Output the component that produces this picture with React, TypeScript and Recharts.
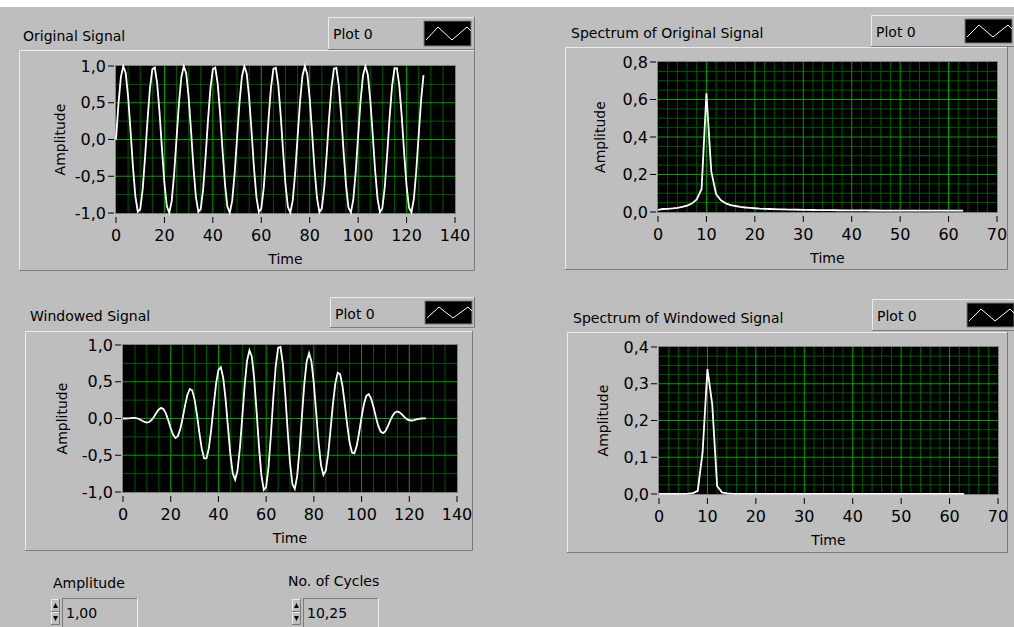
import { LineChart, Line, XAxis, YAxis, CartesianGrid } from "recharts";

// LabVIEW front panel: 10.25 cycles sine, Hanning window, RMS spectra

const originalSignal = [
  0, 0.482, 0.845, 0.998, 0.904, 0.586, 0.122, -0.371, -0.773, -0.983,
  -0.95, -0.681, -0.243, 0.255, 0.69, 0.953, 0.981, 0.765, 0.36, -0.135,
  -0.596, -0.909, -0.997, -0.838, -0.471, 0.012, 0.493, 0.851, 0.999, 0.899,
  0.576, 0.11, -0.383, -0.781, -0.985, -0.946, -0.672, -0.231, 0.267, 0.698,
  0.957, 0.978, 0.757, 0.348, -0.147, -0.606, -0.914, -0.996, -0.831, -0.461,
  0.025, 0.503, 0.858, 0.999, 0.893, 0.566, 0.098, -0.394, -0.788, -0.987,
  -0.942, -0.662, -0.219, 0.279, 0.707, 0.96, 0.976, 0.749, 0.337, -0.159,
  -0.615, -0.919, -0.995, -0.825, -0.45, 0.037, 0.514, 0.864, 1.0, 0.888,
  0.556, 0.086, -0.405, -0.796, -0.989, -0.937, -0.653, -0.207, 0.29, 0.716,
  0.964, 0.973, 0.741, 0.325, -0.171, -0.625, -0.924, -0.994, -0.818, -0.439,
  0.049, 0.524, 0.87, 1.0, 0.882, 0.545, 0.074, -0.416, -0.803, -0.991,
  -0.933, -0.644, -0.195, 0.302, 0.724, 0.967, 0.97, 0.733, 0.314, -0.183,
  -0.634, -0.929, -0.992, -0.81, -0.428, 0.061, 0.535, 0.876,
];

const windowedSignal = [
  0, 0.0, 0.002, 0.005, 0.009, 0.009, 0.003, -0.011, -0.03, -0.047,
  -0.056, -0.048, -0.02, 0.025, 0.078, 0.123, 0.144, 0.126, 0.066, -0.027,
  -0.132, -0.221, -0.264, -0.24, -0.145, 0.004, 0.175, 0.322, 0.402, 0.384,
  0.26, 0.052, -0.192, -0.41, -0.541, -0.542, -0.402, -0.144, 0.172, 0.467,
  0.662, 0.698, 0.557, 0.263, -0.114, -0.484, -0.747, -0.833, -0.709, -0.401,
  0.022, 0.454, 0.786, 0.928, 0.84, 0.539, 0.094, -0.383, -0.771, -0.972,
  -0.933, -0.658, -0.219, 0.279, 0.707, 0.959, 0.974, 0.745, 0.334, -0.157,
  -0.602, -0.892, -0.957, -0.785, -0.424, 0.034, 0.471, 0.779, 0.887, 0.773,
  0.475, 0.072, -0.331, -0.635, -0.769, -0.709, -0.48, -0.148, 0.2, 0.479,
  0.622, 0.605, 0.443, 0.186, -0.094, -0.328, -0.462, -0.473, -0.369, -0.187,
  0.02, 0.198, 0.309, 0.332, 0.272, 0.156, 0.02, -0.101, -0.178, -0.2,
  -0.171, -0.106, -0.029, 0.039, 0.082, 0.095, 0.082, 0.052, 0.019, -0.009,
  -0.024, -0.027, -0.021, -0.012, -0.004, 0.0, 0.001, 0.001,
];

const originalSpectrum = [
  0.011, 0.016, 0.017, 0.019, 0.022, 0.027, 0.034, 0.045, 0.067, 0.123,
  0.633, 0.216, 0.095, 0.062, 0.046, 0.037, 0.032, 0.027, 0.024, 0.022,
  0.02, 0.018, 0.017, 0.016, 0.015, 0.014, 0.0135, 0.0129, 0.0123, 0.0119,
  0.0114, 0.011, 0.0106, 0.0103, 0.01, 0.0097, 0.0095, 0.0093, 0.009, 0.0088,
  0.0087, 0.0085, 0.0083, 0.0082, 0.008, 0.0079, 0.0078, 0.0077, 0.0076, 0.0075,
  0.0075, 0.0074, 0.0073, 0.0073, 0.0072, 0.0072, 0.0071, 0.0071, 0.007, 0.007,
  0.007, 0.007, 0.007, 0.007,
];

const windowedSpectrum = [
  0.0003, 0.0003, 0.0003, 0.0003, 0.0004, 0.0006, 0.0011, 0.0026, 0.0087, 0.113,
  0.34, 0.243, 0.022, 0.0044, 0.0016, 0.0008, 0.0005, 0.0004, 0.0003, 0.0003,
  0.0003, 0.0003, 0.0003, 0.0003, 0.0003, 0.0003, 0.0003, 0.0003, 0.0003, 0.0003,
  0.0003, 0.0003, 0.0003, 0.0003, 0.0003, 0.0003, 0.0003, 0.0003, 0.0003, 0.0003,
  0.0003, 0.0003, 0.0003, 0.0003, 0.0003, 0.0003, 0.0003, 0.0003, 0.0003, 0.0003,
  0.0003, 0.0003, 0.0003, 0.0003, 0.0003, 0.0003, 0.0003, 0.0003, 0.0003, 0.0003,
  0.0003, 0.0003, 0.0003, 0.0003,
];

const timeTicks = [0, 20, 40, 60, 80, 100, 120, 140];
const timeMajor = [20, 40, 60, 80, 100, 120];
const timeMinor = [5, 10, 15, 25, 30, 35, 45, 50, 55, 65, 70, 75, 85, 90, 95, 105, 110, 115, 125, 130, 135];
const freqTicks = [0, 10, 20, 30, 40, 50, 60, 70];
const freqMajor = [10, 20, 30, 40, 50, 60];
const freqMinor = [2, 4, 6, 8, 12, 14, 16, 18, 22, 24, 26, 28, 32, 34, 36, 38, 42, 44, 46, 48, 52, 54, 56, 58, 62, 64, 66, 68];

const signalTicks = [-1, -0.5, 0, 0.5, 1];
const signalMajor = [-0.5, 0, 0.5];
const signalMinor = [-0.75, -0.25, 0.25, 0.75];
const origSpecTicks = [0, 0.2, 0.4, 0.6, 0.8];
const origSpecMajor = [0.2, 0.4, 0.6];
const origSpecMinor = [0.05, 0.1, 0.15, 0.25, 0.3, 0.35, 0.45, 0.5, 0.55, 0.65, 0.7, 0.75];
const winSpecTicks = [0, 0.1, 0.2, 0.3, 0.4];
const winSpecMajor = [0.1, 0.2, 0.3];
const winSpecMinor = [0.025, 0.05, 0.075, 0.125, 0.15, 0.175, 0.225, 0.25, 0.275, 0.325, 0.35, 0.375];

const W = 1014;
const H = 627;
const BG = "#bebebe";
const FONT = "DejaVu Sans";
const Y_AXIS_W = 60;
const X_AXIS_H = 52;

const fmtY = (v: number) => v.toFixed(1).replace(".", ",");

// eslint-disable-next-line @typescript-eslint/no-explicit-any
const XTick = (props: any) => {
  const { x, y, payload } = props;
  return (
    <g>
      <line x1={x} x2={x} y1={y - 10} y2={y - 4} stroke="#000" />
      <text x={x} y={y + 14} textAnchor="middle" fontFamily={FONT} fontSize={16} fill="#000">
        {payload.value}
      </text>
    </g>
  );
};

// eslint-disable-next-line @typescript-eslint/no-explicit-any
const YTick = (props: any) => {
  const { x, y, payload } = props;
  return (
    <g>
      <line x1={x + 2} x2={x + 8} y1={y} y2={y} stroke="#000" />
      <text x={x} y={y + 5.5} textAnchor="end" fontFamily={FONT} fontSize={16} fill="#000">
        {fmtY(payload.value)}
      </text>
    </g>
  );
};

type Box = { left: number; top: number; right: number; bottom: number };

type GraphProps = {
  values: number[];
  xMax: number;
  xTicks: number[];
  xMajor: number[];
  xMinor: number[];
  yTicks: number[];
  yMajor: number[];
  yMinor: number[];
  plot: Box;
  labelX: number;
};

function Graph({ values, xMax, xTicks, xMajor, xMinor, yTicks, yMajor, yMinor, plot, labelX }: GraphProps) {
  const data = values.map((v, i) => ({ x: i, y: v }));
  return (
    <div style={{ position: "absolute", left: 0, top: 0 }}>
      <LineChart
        width={W}
        height={H}
        data={data}
        margin={{
          top: plot.top,
          left: plot.left - Y_AXIS_W,
          right: W - plot.right,
          bottom: H - plot.bottom - X_AXIS_H,
        }}
      >
        <CartesianGrid fill="#000" stroke="#005800" verticalValues={xMinor} horizontalValues={yMinor} />
        <CartesianGrid stroke="#00a000" verticalValues={xMajor} horizontalValues={yMajor} />
        <XAxis
          type="number"
          dataKey="x"
          domain={[0, xMax]}
          ticks={xTicks}
          interval={0}
          height={X_AXIS_H}
          axisLine={false}
          tickLine={false}
          tickSize={10}
          tickMargin={4}
          tick={(p) => <XTick {...p} />}
          label={{ value: "Time", position: "insideBottom", offset: 1, fill: "#000", fontSize: 14, fontFamily: FONT }}
        />
        <YAxis
          type="number"
          domain={[yTicks[0], yTicks[yTicks.length - 1]]}
          ticks={yTicks}
          interval={0}
          width={Y_AXIS_W}
          axisLine={false}
          tickLine={false}
          tickSize={8}
          tickMargin={2}
          tick={(p) => <YTick {...p} />}
          label={{
            value: "Amplitude",
            angle: -90,
            position: "insideLeft",
            offset: labelX - (plot.left - Y_AXIS_W),
            fill: "#000",
            fontSize: 14,
            fontFamily: FONT,
            style: { textAnchor: "middle" },
          }}
        />
        <Line type="linear" dataKey="y" stroke="#ffffff" strokeWidth={1.8} dot={false} isAnimationActive={false} />
      </LineChart>
    </div>
  );
}

function Bevel({ x, y, w, h, raised = true }: { x: number; y: number; w: number; h: number; raised?: boolean }) {
  const light = "#ececec";
  const dark = "#7a7a7a";
  return (
    <g>
      <rect x={x} y={y} width={w} height={h} fill={BG} />
      <path d={`M${x + 0.5},${y + h} V${y + 0.5} H${x + w}`} stroke={raised ? light : dark} fill="none" />
      <path d={`M${x},${y + h - 0.5} H${x + w - 0.5} V${y}`} stroke={raised ? dark : light} fill="none" />
    </g>
  );
}

function PlotLegend({ x, y, w, h, sx }: { x: number; y: number; w: number; h: number; sx: number }) {
  const top = y + 4;
  const bottom = y + h - 4;
  return (
    <g>
      <Bevel x={x} y={y} w={w} h={h} />
      <text x={x + 5} y={y + 22} fontFamily={FONT} fontSize={14} fill="#000">
        Plot 0
      </text>
      <rect x={sx} y={top} width={47} height={bottom - top} fill="#000" stroke="#7a7a7a" />
      <polyline
        points={`${sx + 2},${bottom - 6} ${sx + 14},${top + 6} ${sx + 28},${bottom - 6} ${sx + 43},${top + 6} ${sx + 47},${top + 10}`}
        stroke="#fff"
        fill="none"
      />
    </g>
  );
}

function Numeric({ x, y, label, lx, ly, value }: { x: number; y: number; label: string; lx: number; ly: number; value: string }) {
  return (
    <g>
      <text x={lx} y={ly} fontFamily={FONT} fontSize={14} fill="#000">
        {label}
      </text>
      <Bevel x={x} y={y + 1} w={9} h={13} />
      <Bevel x={x} y={y + 14} w={9} h={13} />
      <path d={`M${x + 2},${y + 10} L${x + 4.5},${y + 5} L${x + 7},${y + 10} Z`} fill="#000" />
      <path d={`M${x + 2},${y + 18} L${x + 4.5},${y + 23} L${x + 7},${y + 18} Z`} fill="#000" />
      <Bevel x={x + 11} y={y} w={76} h={30} raised={false} />
      <text x={x + 15} y={y + 20} fontFamily={FONT} fontSize={14} fill="#000">
        {value}
      </text>
    </g>
  );
}

export default function App() {
  return (
    <div style={{ position: "absolute", left: 0, top: 0, width: W, height: H, overflow: "hidden", background: "#fff" }}>
      <svg width={W} height={H} style={{ position: "absolute", left: 0, top: 0 }}>
        <rect x={0} y={7} width={W} height={H - 7} fill={BG} />

        <Bevel x={19} y={50} w={456} h={221} />
        <Bevel x={565} y={47} w={443} h={223} />
        <Bevel x={25} y={331} w={448} h={220} />
        <Bevel x={567} y={332} w={441} h={221} />

        <rect x={115.5} y={65.5} width={340} height={148} fill="none" stroke="#808080" />
        <rect x={657.5} y={61.5} width={340} height={151} fill="none" stroke="#808080" />
        <rect x={122.5} y={344.5} width={335} height={148} fill="none" stroke="#808080" />
        <rect x={658.5} y={346.5} width={340} height={148} fill="none" stroke="#808080" />

        <text x={23} y={41} fontFamily={FONT} fontSize={14} fill="#000">Original Signal</text>
        <text x={571} y={38} fontFamily={FONT} fontSize={14} fill="#000">Spectrum of Original Signal</text>
        <text x={30} y={321} fontFamily={FONT} fontSize={14} fill="#000">Windowed Signal</text>
        <text x={573} y={323} fontFamily={FONT} fontSize={14} fill="#000">Spectrum of Windowed Signal</text>

        <PlotLegend x={328} y={17} w={147} h={33} sx={424} />
        <PlotLegend x={871} y={15} w={160} h={32} sx={965} />
        <PlotLegend x={330} y={297} w={145} h={31} sx={425} />
        <PlotLegend x={872} y={299} w={160} h={32} sx={967} />

        <Numeric x={51} y={598} label="Amplitude" lx={53} ly={588} value="1,00" />
        <Numeric x={292} y={598} label="No. of Cycles" lx={288} ly={586} value="10,25" />
      </svg>

      <Graph
        values={originalSignal}
        xMax={140}
        xTicks={timeTicks}
        xMajor={timeMajor}
        xMinor={timeMinor}
        yTicks={signalTicks}
        yMajor={signalMajor}
        yMinor={signalMinor}
        plot={{ left: 116, top: 66, right: 455, bottom: 213 }}
        labelX={60}
      />
      <Graph
        values={originalSpectrum}
        xMax={70}
        xTicks={freqTicks}
        xMajor={freqMajor}
        xMinor={freqMinor}
        yTicks={origSpecTicks}
        yMajor={origSpecMajor}
        yMinor={origSpecMinor}
        plot={{ left: 658, top: 62, right: 997, bottom: 212 }}
        labelX={600}
      />
      <Graph
        values={windowedSignal}
        xMax={140}
        xTicks={timeTicks}
        xMajor={timeMajor}
        xMinor={timeMinor}
        yTicks={signalTicks}
        yMajor={signalMajor}
        yMinor={signalMinor}
        plot={{ left: 123, top: 345, right: 457, bottom: 492 }}
        labelX={62}
      />
      <Graph
        values={windowedSpectrum}
        xMax={70}
        xTicks={freqTicks}
        xMajor={freqMajor}
        xMinor={freqMinor}
        yTicks={winSpecTicks}
        yMajor={winSpecMajor}
        yMinor={winSpecMinor}
        plot={{ left: 659, top: 347, right: 998, bottom: 494 }}
        labelX={603}
      />
    </div>
  );
}
